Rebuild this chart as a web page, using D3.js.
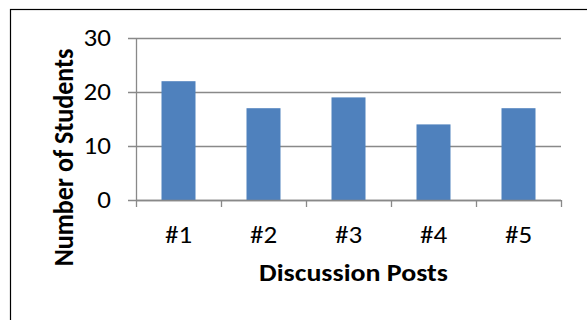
<!DOCTYPE html>
<html>
<head>
<meta charset="utf-8">
<script src="https://cdn.jsdelivr.net/npm/d3@7"></script>
<style>
  html, body { margin: 0; padding: 0; background: #fff; }
  svg { display: block; }
</style>
</head>
<body>
<div id="chart"></div>
<script>
// chart data
const categories = ['#1', '#2', '#3', '#4', '#5'];
const students = [22, 17, 19, 14, 17];
const yTicks = [0, 10, 20, 30];

const width = 587;
const height = 320;
const plot = { left: 136, right: 561, top: 38, bottom: 200 };
const fontFamily = "Carlito, Calibri, 'Open Sans', sans-serif";
const fontSize = 23.5;
const sx = 1.15; // the original picture is stretched a little sideways

const svg = d3.select('#chart')
  .append('svg')
  .attr('width', width)
  .attr('height', height);

// outer chart frame (runs off the right/bottom of the picture)
svg.append('rect')
  .attr('x', 10.5)
  .attr('y', 9.5)
  .attr('width', 620)
  .attr('height', 400)
  .attr('fill', 'none')
  .attr('stroke', '#000')
  .attr('stroke-width', 1.2);

const x = d3.scaleBand()
  .domain(categories)
  .range([plot.left, plot.right])
  .padding(0);

const y = d3.scaleLinear()
  .domain([0, 30])
  .range([plot.bottom, plot.top]);

const gridColor = '#898989';

// horizontal gridlines
svg.append('g')
  .selectAll('line')
  .data(yTicks)
  .enter()
  .append('line')
  .attr('x1', plot.left - 8)
  .attr('x2', plot.right)
  .attr('y1', (d) => Math.round(y(d)) + 0.5)
  .attr('y2', (d) => Math.round(y(d)) + 0.5)
  .attr('stroke', gridColor)
  .attr('stroke-width', 1.3);

// bars
const barWidth = x.bandwidth() * 0.4;
svg.append('g')
  .selectAll('rect')
  .data(students)
  .enter()
  .append('rect')
  .attr('x', (d, i) => x(categories[i]) + (x.bandwidth() - barWidth) / 2)
  .attr('y', (d) => y(d))
  .attr('width', barWidth)
  .attr('height', (d) => y(0) - y(d))
  .attr('fill', '#4f81bd');

// y axis line
svg.append('line')
  .attr('x1', plot.left + 0.5)
  .attr('x2', plot.left + 0.5)
  .attr('y1', plot.top)
  .attr('y2', plot.bottom)
  .attr('stroke', gridColor)
  .attr('stroke-width', 1.3);

// x axis line + category ticks
const xEdges = categories.map((c) => x(c)).concat([plot.right]);
svg.append('line')
  .attr('x1', plot.left)
  .attr('x2', plot.right)
  .attr('y1', plot.bottom + 0.5)
  .attr('y2', plot.bottom + 0.5)
  .attr('stroke', gridColor)
  .attr('stroke-width', 1.3);

svg.append('g')
  .selectAll('line')
  .data(xEdges)
  .enter()
  .append('line')
  .attr('x1', (d) => Math.round(d) + 0.5)
  .attr('x2', (d) => Math.round(d) + 0.5)
  .attr('y1', plot.bottom)
  .attr('y2', plot.bottom + 7)
  .attr('stroke', gridColor)
  .attr('stroke-width', 1.3);

// y tick labels
svg.append('g')
  .selectAll('text')
  .data(yTicks)
  .enter()
  .append('text')
  .attr('transform', (d) => `translate(111,${y(d) + 7.5}) scale(${sx},1)`)
  .attr('text-anchor', 'end')
  .attr('font-family', fontFamily)
  .attr('font-size', fontSize)
  .attr('fill', '#000')
  .text((d) => d);

// x tick labels
svg.append('g')
  .selectAll('text')
  .data(categories)
  .enter()
  .append('text')
  .attr('transform', (d) => `translate(${x(d) + x.bandwidth() / 2},243) scale(${sx},1)`)
  .attr('text-anchor', 'middle')
  .attr('font-family', fontFamily)
  .attr('font-size', fontSize)
  .attr('fill', '#000')
  .text((d) => d);

// axis titles
svg.append('text')
  .attr('transform', `translate(${(plot.left + plot.right) / 2 + 5},281) scale(${sx},1)`)
  .attr('text-anchor', 'middle')
  .attr('font-family', fontFamily)
  .attr('font-weight', 'bold')
  .attr('font-size', 24.3)
  .attr('fill', '#000')
  .text('Discussion Posts');

svg.append('text')
  .attr('transform', 'translate(73,157.5) scale(1.05,1) rotate(-90)')
  .attr('text-anchor', 'middle')
  .attr('font-family', fontFamily)
  .attr('font-weight', 'bold')
  .attr('font-size', 26)
  .attr('fill', '#000')
  .text('Number of Students');
</script>
</body>
</html>
